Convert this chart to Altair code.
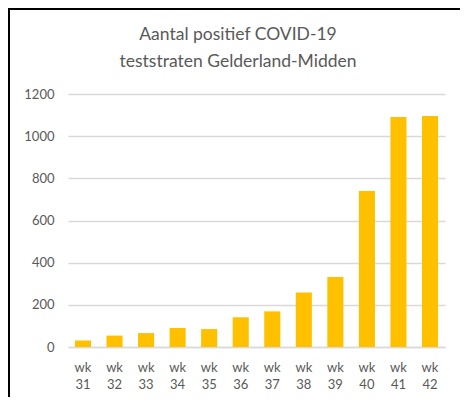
import altair as alt
import pandas as pd

weeks = ["wk 31", "wk 32", "wk 33", "wk 34", "wk 35", "wk 36",
         "wk 37", "wk 38", "wk 39", "wk 40", "wk 41", "wk 42"]
counts = [31, 54, 66, 90, 85, 141, 169, 259, 332, 740, 1091, 1096]
title_lines = ["Aantal positief COVID-19", "teststraten Gelderland-Midden"]
y_ticks = [0, 200, 400, 600, 800, 1000, 1200]

df = pd.DataFrame({"week": weeks, "count": counts})

FONT = "Lato"
TXT = "#595959"
GRID = "#D9D9D9"

bars = alt.Chart(df).mark_bar(color="#FFC000").encode(
    x=alt.X("week:N", sort=weeks,
            scale=alt.Scale(paddingInner=0.49, paddingOuter=0.22),
            axis=alt.Axis(title=None, labelAngle=0, ticks=False, domain=True,
                          domainColor=GRID, domainWidth=1.5,
                          labelExpr="split(datum.label, ' ')",
                          labelFont=FONT, labelFontSize=13, labelColor=TXT,
                          labelLineHeight=17.5, labelPadding=14)),
    y=alt.Y("count:Q", scale=alt.Scale(domain=[0, 1200], nice=False),
            axis=alt.Axis(title=None, values=y_ticks, ticks=False, domain=False,
                          grid=True, gridColor=GRID, gridWidth=1.5, format="d",
                          labelFont=FONT, labelFontSize=13, labelColor=TXT,
                          labelPadding=14)),
)

frame_data = alt.Data(values=[{}])
left_border = alt.Chart(frame_data).mark_rule(color="black", strokeWidth=2).encode(
    x=alt.value(-59), y=alt.value(-86), y2=alt.value(320))
top_border = alt.Chart(frame_data).mark_rule(color="black", strokeWidth=2).encode(
    x=alt.value(-60), x2=alt.value(400), y=alt.value(-85))
title_text = alt.Chart(frame_data).mark_text(
    font=FONT, fontSize=17.5, color=TXT, align="center", baseline="alphabetic",
    lineHeight=26.5).encode(
    x=alt.value(170), y=alt.value(-54), text=alt.value(title_lines))

chart = alt.layer(bars, left_border, top_border, title_text).properties(
    width=377, height=253,
    autosize=alt.AutoSizeParams(type="none"),
    padding={"left": 60, "top": 86, "right": 15, "bottom": 50},
).configure_view(stroke=None)

chart.save("out.html", embed_options={"renderer": "svg", "actions": False})
